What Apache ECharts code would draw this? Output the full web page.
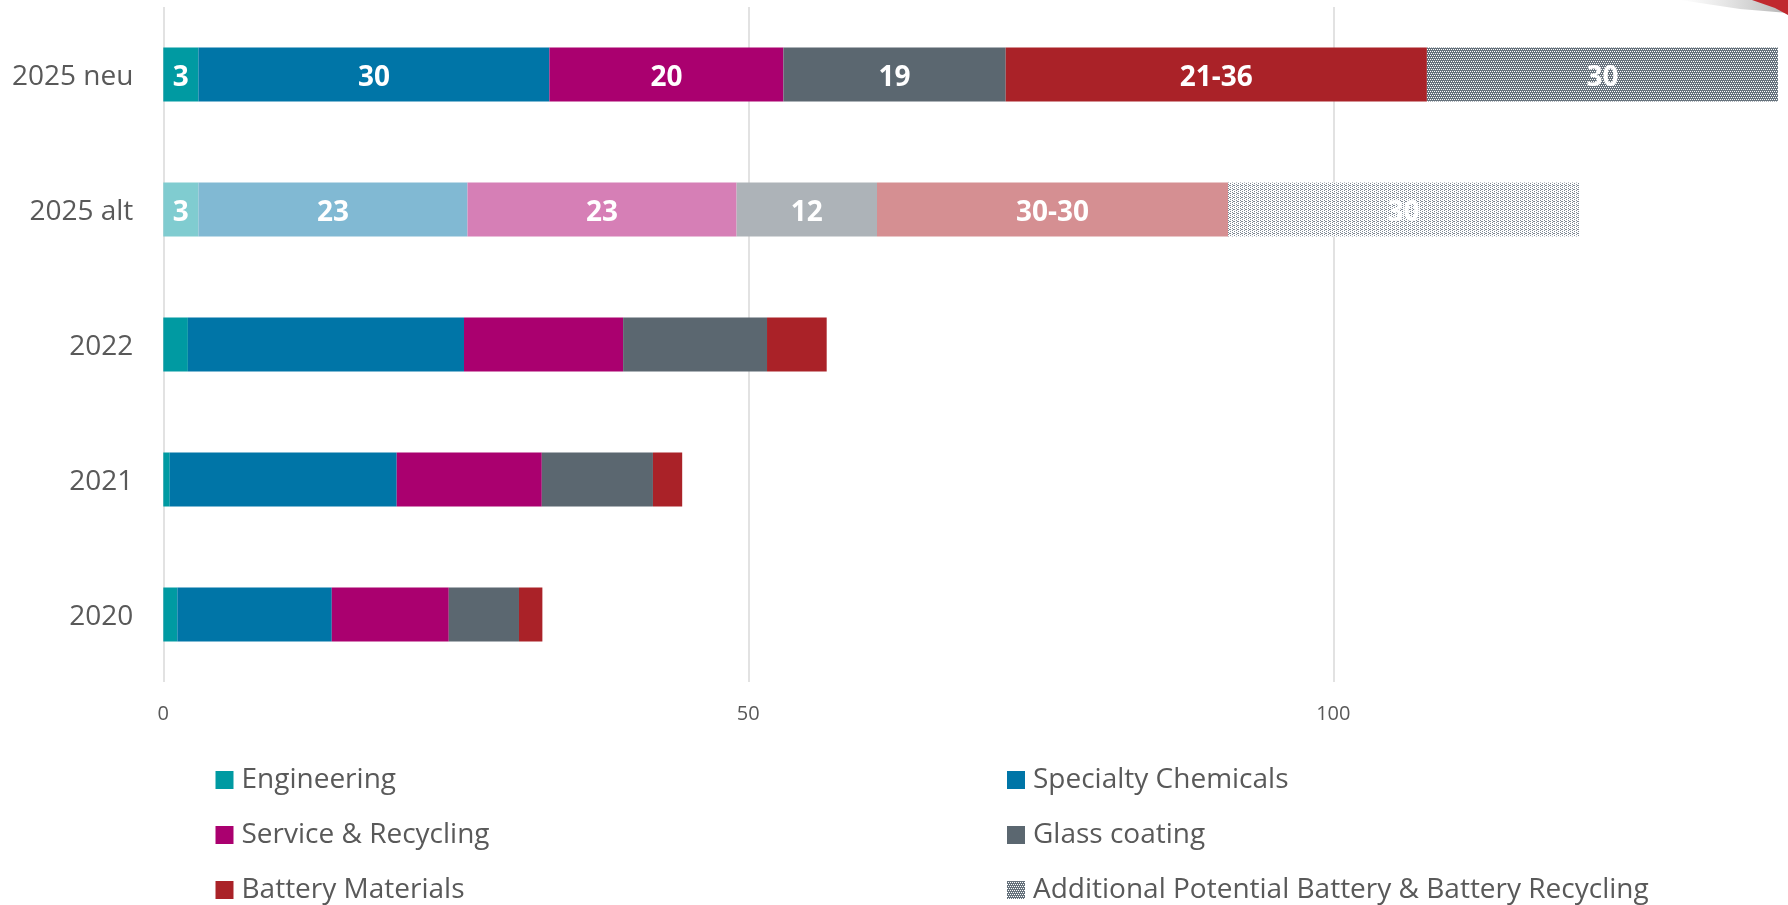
<!DOCTYPE html>
<html>
<head>
<meta charset="utf-8">
<script src="https://cdn.jsdelivr.net/npm/echarts@6/dist/echarts.min.js"></script>
<style>
html,body{margin:0;padding:0;background:#fff;}
#chart{width:1788px;height:905px;}
</style>
</head>
<body>
<div id="chart"></div>
<script>
// ---- data ----
const categories = ['2025 neu', '2025 alt', '2022', '2021', '2020'];
const engineering = [3, 3, 2.1, 0.55, 1.2];
const specialtyChemicals = [30, 23, 23.6, 19.4, 13.2];
const serviceRecycling = [20, 23, 13.6, 12.4, 10.0];
const glassCoating = [19, 12, 12.3, 9.5, 6.0];
const batteryMaterials = [36, 30, 5.1, 2.5, 2.0];
const additionalPotential = [30, 30, null, null, null];

const engineeringLabels = ['3', '3', '', '', ''];
const specialtyLabels = ['30', '23', '', '', ''];
const serviceLabels = ['20', '23', '', '', ''];
const glassLabels = ['19', '12', '', '', ''];
const batteryLabels = ['21-36', '30-30', '', '', ''];
const additionalLabels = ['30', '30', '', '', ''];

const xTickInterval = 50;

// ---- styling ----
const FONT = 'Open Sans';
const TXT = '#595959';
const GRID_LEFT = 163.3;
const PX_PER_UNIT = 11.7;
const xMax = (1788 - GRID_LEFT) / PX_PER_UNIT; // axis runs off the right edge as in the original

function makePattern(bg, dot, pts, w, h) {
  const c = document.createElement('canvas');
  c.width = w; c.height = h;
  const ctx = c.getContext('2d');
  ctx.fillStyle = bg; ctx.fillRect(0, 0, w, h);
  ctx.fillStyle = dot;
  pts.forEach(p => ctx.fillRect(p[0], p[1], 1, 1));
  return { image: c, repeat: 'repeat' };
}
const patternDark = makePattern('#66727C', '#ffffff', [[1,1],[3,1],[0,3],[2,3]], 4, 4);
const patternLight = makePattern('#ffffff', '#7E8893', [[0,0],[0,2],[2,1],[2,3],[1,1]], 4, 4);

const seriesDefs = [
  { name: 'Engineering', data: engineering, labels: engineeringLabels, color: '#009AA2', alt: '#80CCD0' },
  { name: 'Specialty Chemicals', data: specialtyChemicals, labels: specialtyLabels, color: '#0075A7', alt: '#81B9D3' },
  { name: 'Service & Recycling', data: serviceRecycling, labels: serviceLabels, color: '#AA006F', alt: '#D67FB6' },
  { name: 'Glass coating', data: glassCoating, labels: glassLabels, color: '#5B6770', alt: '#ADB3B8' },
  { name: 'Battery Materials', data: batteryMaterials, labels: batteryLabels, color: '#AA2228', alt: '#D58F92' },
  { name: 'Additional Potential Battery & Battery Recycling', data: additionalPotential, labels: additionalLabels, color: patternDark, alt: patternLight }
];

const series = seriesDefs.map(d => ({
  name: d.name,
  type: 'bar',
  stack: 'total',
  barWidth: 54,
  itemStyle: { color: d.color },
  label: {
    show: true,
    position: 'inside',
    offset: [0, 4],
    color: '#fff',
    fontFamily: FONT,
    fontWeight: 'bold',
    fontSize: 28
  },
  emphasis: { disabled: true },
  data: d.data.map((v, i) => {
    const item = { value: v };
    if (categories[i] === '2025 alt') item.itemStyle = { color: d.alt };
    item.label = d.labels[i] ? { show: true, formatter: d.labels[i] } : { show: false };
    return item;
  })
}));

const legendPos = [
  { name: 'Engineering', left: 215.5, top: 766 },
  { name: 'Service & Recycling', left: 215.5, top: 821 },
  { name: 'Battery Materials', left: 215.5, top: 876 },
  { name: 'Specialty Chemicals', left: 1007, top: 766 },
  { name: 'Glass coating', left: 1007, top: 821 },
  { name: 'Additional Potential Battery & Battery Recycling', left: 1007, top: 876 }
];
const legends = legendPos.map(l => ({
  data: [l.name],
  left: l.left,
  top: l.top,
  padding: 0,
  icon: 'rect',
  itemWidth: 18,
  itemHeight: 18,
  itemGap: 8,
  selectedMode: false,
  textStyle: { fontFamily: FONT, fontSize: 28, color: TXT, padding: [0, 0, 0, 3] }
}));

const chart = echarts.init(document.getElementById('chart'), null, { renderer: 'canvas' });
chart.setOption({
  animation: false,
  backgroundColor: '#fff',
  grid: { left: GRID_LEFT, top: 7, height: 675, right: 0, containLabel: false },
  xAxis: {
    type: 'value',
    min: 0, max: xMax, interval: xTickInterval,
    axisLine: { show: false },
    axisTick: { show: false },
    splitLine: { show: true, showMaxLine: false, lineStyle: { color: '#D9D9D9', width: 1.5 } },
    axisLabel: { color: TXT, fontFamily: FONT, fontSize: 20, margin: 22, showMaxLabel: false }
  },
  yAxis: {
    type: 'category',
    inverse: true,
    data: categories,
    axisLine: { show: false },
    axisTick: { show: false },
    axisLabel: {
      color: TXT, fontFamily: FONT, fontSize: 28, margin: 30,
      formatter: v => '{a|' + v + '}',
      rich: { a: { fontFamily: FONT, fontSize: 28, color: TXT, padding: [5, 0, 0, 0] } }
    }
  },
  legend: legends,
  series: series,
  graphic: [
    {
      type: 'polygon',
      shape: { points: [[1680, 0], [1775, 0], [1788, 8], [1788, 13], [1740, 9]] },
      style: {
        fill: { type: 'linear', x: 0, y: 0, x2: 1, y2: 0, colorStops: [
          { offset: 0, color: 'rgba(200,200,200,0)' }, { offset: 1, color: 'rgba(170,170,170,0.9)' } ] }
      }
    },
    {
      type: 'polygon',
      shape: { points: [[1752, 0], [1788, 0], [1788, 15], [1775, 8]] },
      style: { fill: '#C0282E' }
    }
  ]
});
</script>
</body>
</html>
